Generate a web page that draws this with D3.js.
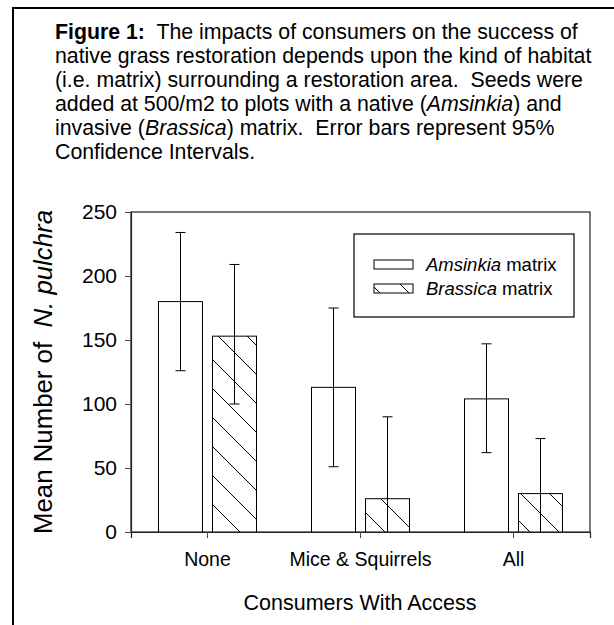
<!DOCTYPE html>
<html><head><meta charset="utf-8">
<script src="https://cdn.jsdelivr.net/npm/d3@7"></script>
<style>html,body{margin:0;padding:0;background:#fff;}svg{display:block;font-family:Arial,"Liberation Sans",sans-serif;}</style>
</head><body>
<script>
const categories = ["None", "Mice & Squirrels", "All"];
const seriesNames = ["Amsinkia", "Brassica"];
const amsinkiaMeans = [180, 113, 104];
const amsinkiaLower = [126, 51, 62];
const amsinkiaUpper = [234, 175, 147];
const brassicaMeans = [153, 26, 30];
const brassicaLower = [100, -38, -13];
const brassicaUpper = [209, 90, 73];
const yTicks = [0, 50, 100, 150, 200, 250];

const W = 614, H = 625;
const FONT = "Arial, 'Liberation Sans', sans-serif";
const svg = d3.select("body").append("svg").attr("width", W).attr("height", H);

// outer frame
svg.append("path").attr("d", `M13,${H} L13,8 L${W},8`).attr("fill","none").attr("stroke","#000").attr("stroke-width",2);

// caption
const lines = [
  [["Figure 1:", "bold"], ["\u00a0 The impacts of consumers on the success of", ""]],
  [["native grass restoration depends upon the kind of habitat", ""]],
  [["(i.e. matrix) surrounding a restoration area.\u00a0 Seeds were", ""]],
  [["added at 500/m2 to plots with a native (", ""], ["Amsinkia", "italic"], [") and", ""]],
  [["invasive (", ""], ["Brassica", "italic"], [") matrix.\u00a0 Error bars represent 95%", ""]],
  [["Confidence Intervals.", ""]]
];
lines.forEach((ln, i) => {
  const t = svg.append("text").attr("x", 55).attr("y", 38.5 + i * 24).attr("font-size", 21.3).attr("fill","#000");
  ln.forEach(([s, st]) => {
    const ts = t.append("tspan").text(s);
    if (st === "bold") ts.attr("font-weight", "bold");
    if (st === "italic") ts.attr("font-style", "italic");
  });
});

const x0 = d3.scaleBand().domain(categories).range([131, 590]).padding(0);
const y = d3.scaleLinear().domain([0, 250]).range([532, 212]);
const barW = 44, gap = 10;

const defs = svg.append("defs");
function hatch(id, tx) {
  const p = defs.append("pattern").attr("id", id).attr("patternUnits","userSpaceOnUse")
    .attr("width",29).attr("height",29).attr("patternTransform",`translate(${tx},0)`);
  p.append("rect").attr("width",29).attr("height",29).attr("fill","#fff");
  p.append("path").attr("d","M0,0 L29,29 M-3,26 L3,32 M26,-3 L32,3").attr("stroke","#000").attr("stroke-width",1);
}
hatch("hatch", 27);
hatch("hatchLeg", 0);

const series = [
  {name: "Amsinkia", means: amsinkiaMeans, lo: amsinkiaLower, hi: amsinkiaUpper, fill: "#fff", off: -(gap/2 + barW)},
  {name: "Brassica", means: brassicaMeans, lo: brassicaLower, hi: brassicaUpper, fill: "url(#hatch)", off: gap/2}
];

// plot frame
svg.append("rect").attr("x",131).attr("y",212).attr("width",459).attr("height",320)
  .attr("fill","none").attr("stroke","#222").attr("stroke-width",1.2);

series.forEach(s => {
  categories.forEach((c, i) => {
    const bx = x0(c) + x0.bandwidth() / 2 + s.off;
    svg.append("rect").attr("x", bx).attr("y", y(s.means[i])).attr("width", barW)
      .attr("height", y(0) - y(s.means[i])).attr("fill", s.fill).attr("stroke","#000").attr("stroke-width",1);
  });
});
series.forEach(s => {
  categories.forEach((c, i) => {
    const ex = x0(c) + x0.bandwidth() / 2 + s.off + barW / 2;
    const lo = Math.max(0, s.lo[i]);
    svg.append("line").attr("x1",ex).attr("x2",ex).attr("y1",y(s.hi[i])).attr("y2",y(lo)).attr("stroke","#000").attr("stroke-width",1);
    svg.append("line").attr("x1",ex-5).attr("x2",ex+5).attr("y1",y(s.hi[i])).attr("y2",y(s.hi[i])).attr("stroke","#000").attr("stroke-width",1);
    if (s.lo[i] > 0)
      svg.append("line").attr("x1",ex-5).attr("x2",ex+5).attr("y1",y(lo)).attr("y2",y(lo)).attr("stroke","#000").attr("stroke-width",1);
  });
});

// axes
const yAxis = d3.axisLeft(y).tickValues(yTicks).tickSize(6).tickPadding(8);
const ga = svg.append("g").attr("transform","translate(131,0)").call(yAxis);
ga.select(".domain").attr("stroke","#222").attr("stroke-width",1.2);
ga.selectAll(".tick line").attr("stroke","#444");
ga.selectAll("text").attr("font-size",21).attr("font-family",FONT).attr("fill","#000");

const xAxis = d3.axisBottom(x0).tickSize(6).tickPadding(14);
const gx = svg.append("g").attr("transform","translate(0,532)").call(xAxis);
gx.select(".domain").attr("stroke","#222").attr("stroke-width",1.2);
gx.selectAll(".tick line").attr("stroke","#444");
gx.selectAll("text").attr("font-size",19.5).attr("font-family",FONT).attr("fill","#000");

// axis titles
svg.append("text").attr("x",360).attr("y",610).attr("text-anchor","middle").attr("font-size",21.5).text("Consumers With Access");
const yt = svg.append("text").attr("transform","translate(52,372) rotate(-90)").attr("text-anchor","middle").attr("font-size",25.8);
yt.append("tspan").text("Mean Number of \u00a0");
yt.append("tspan").attr("font-style","italic").text("N. pulchra");

// legend
svg.append("rect").attr("x",354).attr("y",234).attr("width",220).attr("height",83).attr("fill","#fff").attr("stroke","#000").attr("stroke-width",1.2);
const legItems = [
  {name: seriesNames[0], fill: "#fff", y: 260},
  {name: seriesNames[1], fill: "url(#hatchLeg)", y: 284}
];
legItems.forEach(l => {
  svg.append("rect").attr("x",374).attr("y",l.y).attr("width",39).attr("height",9).attr("fill",l.fill).attr("stroke","#000").attr("stroke-width",1);
  const t = svg.append("text").attr("x",426).attr("y",l.y + 11).attr("font-size",18.5);
  t.append("tspan").attr("font-style","italic").text(l.name);
  t.append("tspan").text(" matrix");
});
</script>
</body></html>
